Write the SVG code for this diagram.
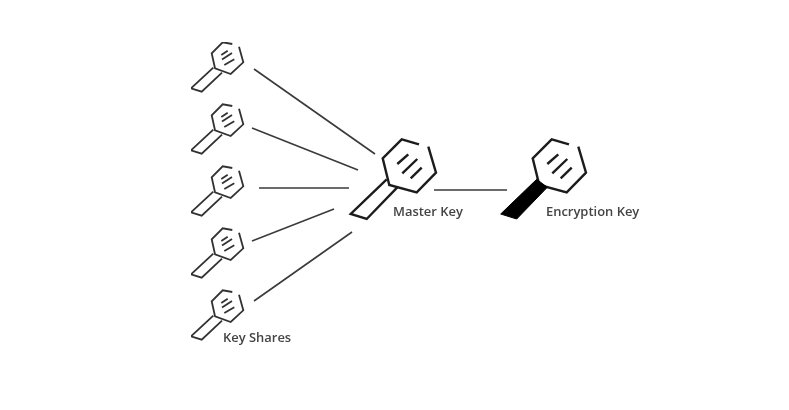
<svg xmlns="http://www.w3.org/2000/svg" width="789" height="410" viewBox="0 0 789 410">
<style>
.k{fill:none;stroke:#333;stroke-width:1.8;stroke-linejoin:miter}
.K{fill:none;stroke:#1c1c1c;stroke-width:2.4;stroke-linejoin:miter}
.c{stroke:#3a3a3a;stroke-width:1.6;fill:none}
text{font-family:"Open Sans","Noto Sans",sans-serif;font-size:12.95px;font-weight:600;fill:#444}
</style>
<defs>
<filter id="soft" x="0" y="0" width="100%" height="100%"><feGaussianBlur stdDeviation="0.45"/></filter>
<g id="small">
<path d="M232.3 44L222.7 42.3L211.7 53.3L215 68.3L230.7 74L243.3 62.3L239 46.7"/>
<path d="M213.3 67.7L191 88.3L201.7 91.7L222 72.7"/>
<path d="M221.3 55L227.7 50.7M222 59.5L232 53M224.3 65L234.3 59.3"/>
</g>
<g id="bighex">
<path d="M419 144.3L401.7 139.3L382.7 158.3L389.3 185L416.7 192.3L436 172.7L428.3 146.7"/>
<path d="M397.3 164L408.3 154.3M402.3 173.3L417.3 159M410.7 178.3L421.7 167.7"/>
</g>
</defs>
<rect width="789" height="410" fill="#fff"/>
<g filter="url(#soft)">
<g id="connectors" class="c">
<line x1="254" y1="69" x2="375" y2="154"/>
<line x1="252" y1="128" x2="358" y2="170"/>
<line x1="259" y1="188" x2="349" y2="188"/>
<line x1="252" y1="241" x2="334" y2="209"/>
<line x1="254" y1="301" x2="352" y2="232"/>
<line x1="434" y1="190" x2="507" y2="190"/>
</g>
<g id="share1" class="k"><use href="#small"/></g>
<g id="share2" class="k"><use href="#small" x="0" y="62"/></g>
<g id="share3" class="k"><use href="#small" x="0" y="124"/></g>
<g id="share4" class="k"><use href="#small" x="0" y="186"/></g>
<g id="share5" class="k"><use href="#small" x="0" y="248"/><text x="223" y="342" stroke="none">Key Shares</text></g>
<g id="master" class="K"><use href="#bighex"/><path d="M386.7 179.3L350.7 214L366.7 219L397.3 187.3"/><text x="393" y="216" stroke="none">Master Key</text></g>
<g id="encryption" class="K"><use href="#bighex" x="150"/><path d="M536.7 179.3L500.7 214L516.7 219L547.3 187.3Z" fill="#000" stroke="#000" stroke-width="1"/><text x="546" y="216" stroke="none">Encryption Key</text></g>
</g>
</svg>
